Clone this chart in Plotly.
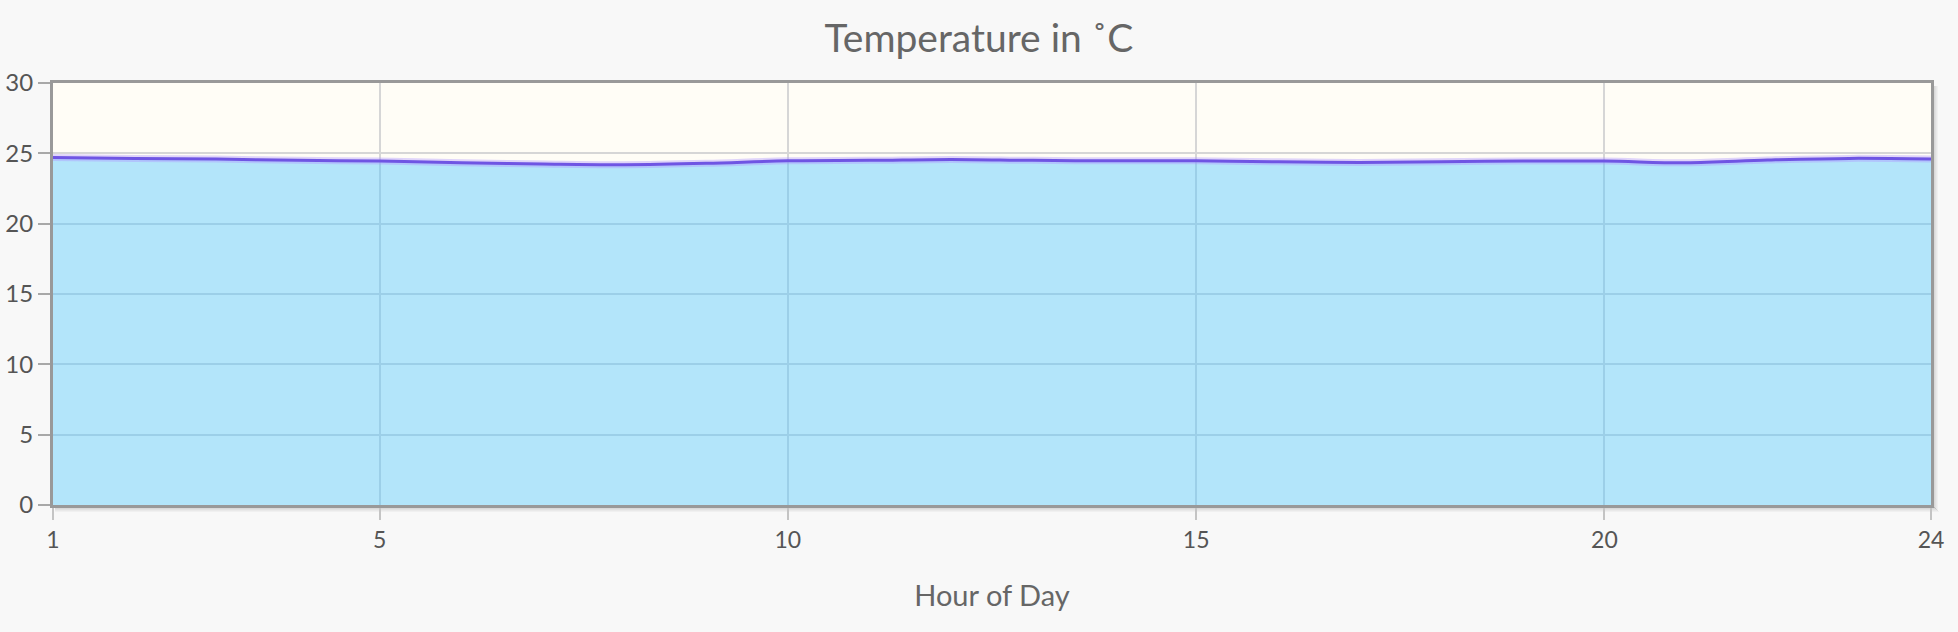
import plotly.graph_objects as go

# ---- data ----
hours = list(range(1, 25))
temps = [24.71, 24.64, 24.59, 24.50, 24.45, 24.33, 24.24, 24.19, 24.29, 24.47, 24.50, 24.57,
         24.50, 24.47, 24.47, 24.40, 24.35, 24.40, 24.45, 24.45, 24.33, 24.52, 24.64, 24.59]
x_tick_vals = [1, 5, 10, 15, 20, 24]
y_tick_vals = [0, 5, 10, 15, 20, 25, 30]
chart_title = "Temperature in ˚C"
x_title = "Hour of Day"

FONT = "Lato, 'Open Sans', sans-serif"
TXT = "#666666"

fig = go.Figure()
# area fill
fig.add_trace(go.Scatter(
    x=hours, y=temps, mode="lines", line=dict(shape="spline", width=0, color="rgba(0,0,0,0)"),
    fill="tozeroy", fillcolor="rgba(82,198,254,0.44)", hoverinfo="skip", showlegend=False))
# soft halo of the line
fig.add_trace(go.Scatter(
    x=hours, y=temps, mode="lines", line=dict(shape="spline", width=7, color="rgba(175,150,255,0.40)"),
    hoverinfo="skip", showlegend=False))
# main line
fig.add_trace(go.Scatter(
    x=hours, y=temps, mode="lines", line=dict(shape="spline", width=3, color="#6f55e3"),
    name="Temperature", showlegend=False))

# drop shadow strips along bottom and right of the plot frame (decoration)
W, H = 1878.0, 422.0
shapes = []
for i in range(6):
    op = 0.18 * (1 - i / 6)
    shapes.append(dict(type="rect", xref="paper", yref="paper", layer="below",
                       x0=2 / W, x1=1 + (3 + i) / W, y0=-(2 + i) / H, y1=-(1 + i) / H,
                       fillcolor=f"rgba(0,0,0,{op:.3f})", line=dict(width=0)))
    shapes.append(dict(type="rect", xref="paper", yref="paper", layer="below",
                       x0=1 + (1 + i) / W, x1=1 + (2 + i) / W, y0=-(1 + i) / H, y1=1 - 3 / H,
                       fillcolor=f"rgba(0,0,0,{op:.3f})", line=dict(width=0)))

fig.update_layout(
    width=1958, height=632,
    margin=dict(l=53, r=27, t=83, b=127),
    paper_bgcolor="#f8f8f8", plot_bgcolor="#fffdf6",
    font=dict(family=FONT, color=TXT),
    title=dict(text=chart_title, x=0.5, xanchor="center", y=1 - 38 / 632, yanchor="middle",
               yref="container", font=dict(size=39, color=TXT, family=FONT)),
    shapes=shapes,
    xaxis=dict(range=[1, 24], tickmode="array", tickvals=x_tick_vals, automargin=False,
               showgrid=True, gridcolor="#d6d6d6", gridwidth=1.5, zeroline=False,
               ticks="outside", ticklen=12, tickwidth=2, tickcolor="#c4c4c4",
               showline=True, linecolor="#999999", linewidth=3, mirror=True,
               layer="below traces",
               tickfont=dict(size=23, color="#555555", family=FONT),
               title=dict(text=x_title, font=dict(size=29, color=TXT, family=FONT), standoff=35)),
    yaxis=dict(range=[0, 30], tickmode="array", tickvals=y_tick_vals, automargin=False,
               showgrid=True, gridcolor="#d6d6d6", gridwidth=1.5, zeroline=False,
               ticks="outside", ticklen=12, tickwidth=2, tickcolor="#a8a8a8",
               showline=True, linecolor="#999999", linewidth=3, mirror=True,
               layer="below traces", ticklabelstandoff=0,
               tickfont=dict(size=24, color="#555555", family=FONT)),
)

fig.write_html("out.html", config={"displayModeBar": False},
               post_script="document.body.style.margin='0';document.body.style.overflow='hidden';")
